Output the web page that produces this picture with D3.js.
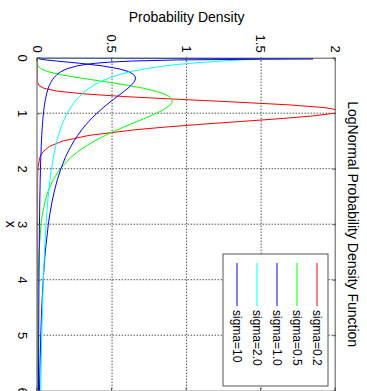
<!DOCTYPE html>
<html>
<head>
<meta charset="utf-8">
<script src="https://cdn.jsdelivr.net/npm/d3@7"></script>
<style>
body { margin: 0; background: #fff; }
svg { display: block; font-family: "Liberation Sans", Arial, sans-serif; }
</style>
</head>
<body>
<svg width="367" height="391"></svg>
<script>
// sample points along x
var xValues = [0, 0.02, 0.04, 0.06, 0.08, 0.1, 0.12, 0.15, 0.2, 0.25, 0.3, 0.35, 0.4, 0.45, 0.5, 0.55,
  0.6, 0.65, 0.7, 0.75, 0.8, 0.85, 0.9, 0.95, 1.0, 1.05, 1.1, 1.15, 1.2, 1.25, 1.3, 1.4, 1.5, 1.6,
  1.7, 1.8, 2.0, 2.2, 2.4, 2.6, 2.8, 3.0, 3.5, 4.0, 4.5, 5.0, 5.5, 6.0];

var sigma02 = [0, 0, 0, 0, 0, 0, 0, 0, 0, 0, 0, 0, 0.0001, 0.0015, 0.0098, 0.0416,
  0.1275, 0.3016, 0.581, 0.9447, 1.338, 1.687, 1.929, 2.032, 1.995, 1.844, 1.619, 1.359, 1.097, 0.856, 0.649, 0.346, 0.170, 0.079,
  0.035, 0.015, 0.0025, 0.0004, 0, 0, 0, 0, 0, 0, 0, 0, 0, 0];
var sigma05 = [0, 0, 0, 0, 0, 0.0002, 0.0008, 0.0040, 0.0225, 0.0683, 0.1463, 0.2517, 0.3720, 0.4945, 0.6104, 0.7098,
  0.7892, 0.8469, 0.8838, 0.9015, 0.9028, 0.8905, 0.8670, 0.8355, 0.7979, 0.7563, 0.7123, 0.6673, 0.6221, 0.5778, 0.5349, 0.4545, 0.3829, 0.3206,
  0.2673, 0.2221, 0.1526, 0.1046, 0.0718, 0.0494, 0.0342, 0.0238, 0.0099, 0.0043, 0.0019, 0.0009, 0.0004, 0.0002];
var sigma10 = [0, 0.0095, 0.0562, 0.1272, 0.2052, 0.2815, 0.3514, 0.4399, 0.5463, 0.6104, 0.6440, 0.6570, 0.6555, 0.6442, 0.6275, 0.6067,
  0.5836, 0.5594, 0.5348, 0.5103, 0.4864, 0.4632, 0.4408, 0.4194, 0.3989, 0.3795, 0.3610, 0.3435, 0.3270, 0.3113, 0.2965, 0.2693, 0.2450, 0.2232,
  0.2039, 0.1865, 0.1569, 0.1329, 0.1133, 0.0972, 0.0839, 0.0727, 0.0520, 0.0381, 0.0286, 0.0219, 0.0170, 0.0134];
var sigma20 = [0, 1.473, 1.366, 1.236, 1.123, 1.028, 0.9477, 0.8480, 0.7215, 0.6275, 0.5547, 0.4966, 0.4490, 0.4093, 0.3757, 0.3468,
  0.3218, 0.2999, 0.2805, 0.2632, 0.2478, 0.2339, 0.2213, 0.2100, 0.1995, 0.1899, 0.1811, 0.1731, 0.1655, 0.1586, 0.1521, 0.1405, 0.1303, 0.1213,
  0.1132, 0.1061, 0.0939, 0.0839, 0.0755, 0.0684, 0.0624, 0.0572, 0.0468, 0.0392, 0.0334, 0.0289, 0.0252, 0.0222];
var sigma100 = [0, 1.848, 0.947, 0.6391, 0.4830, 0.3885, 0.3251, 0.2612, 0.1969, 0.1580, 0.1320, 0.1134, 0.0993, 0.0884, 0.0796, 0.0724,
  0.0664, 0.0613, 0.0570, 0.0532, 0.0499, 0.0469, 0.0443, 0.0420, 0.0399, 0.0380, 0.0363, 0.0347, 0.0332, 0.0319, 0.0307, 0.0285, 0.0266, 0.0249,
  0.0235, 0.0221, 0.0199, 0.0181, 0.0166, 0.0153, 0.0142, 0.0132, 0.0113, 0.0099, 0.0088, 0.0079, 0.0071, 0.0065];

var seriesNames = ["sigma=0.2", "sigma=0.5", "sigma=1.0", "sigma=2.0", "sigma=10"];
var seriesColors = ["#ff0000", "#00ff00", "#0000ff", "#00ffff", "#0000ff"];
var xTicks = [0, 1, 2, 3, 4, 5, 6];
var yTicks = [0, 0.5, 1, 1.5, 2];

var allSeries = [sigma02, sigma05, sigma10, sigma20, sigma100];

// the whole figure is drawn upright (391 wide, 367 tall) and then turned a quarter clockwise
var svg = d3.select("svg");
var fig = svg.append("g").attr("transform", "translate(367,0) rotate(90)");

var plotLeft = 57.7, plotRight = 390.7, plotTop = 31.3, plotBottom = 329.5;
var w = plotRight - plotLeft, h = plotBottom - plotTop;

var x = d3.scaleLinear().domain([0, 6]).range([0, w]);
var y = d3.scaleLinear().domain([0, 2]).range([h, 0]);

var g = fig.append("g").attr("transform", "translate(" + plotLeft + "," + plotTop + ")");

// dotted grid
g.append("g").selectAll("line").data(xTicks.slice(1, -1)).enter().append("line")
  .attr("x1", function (d) { return x(d); }).attr("x2", function (d) { return x(d); })
  .attr("y1", 0).attr("y2", h)
  .attr("stroke", "#000").attr("stroke-dasharray", "1,2");
g.append("g").selectAll("line").data(yTicks.slice(1, -1)).enter().append("line")
  .attr("y1", function (d) { return y(d); }).attr("y2", function (d) { return y(d); })
  .attr("x1", 0).attr("x2", w)
  .attr("stroke", "#000").attr("stroke-dasharray", "1,2");

g.append("clipPath").attr("id", "clip")
  .append("rect").attr("width", w).attr("height", h);

var line = d3.line()
  .x(function (d, i) { return x(xValues[i]); })
  .y(function (d) { return y(d); });

g.append("g").attr("clip-path", "url(#clip)")
  .selectAll("path").data(allSeries).enter().append("path")
  .attr("d", line)
  .attr("fill", "none")
  .attr("stroke", function (d, i) { return seriesColors[i]; })
  .attr("stroke-width", 1);

// axes, ticks pointing inward like matlab
var axisColor = "#555";
var xb = g.append("g").attr("transform", "translate(0," + h + ")")
  .call(d3.axisBottom(x).tickValues(xTicks).tickSize(-3).tickPadding(10).tickFormat(d3.format("d")));
var xt = g.append("g")
  .call(d3.axisTop(x).tickValues(xTicks).tickSize(-3).tickFormat(""));
var yl = g.append("g")
  .call(d3.axisLeft(y).tickValues(yTicks).tickSize(-3).tickPadding(5).tickFormat(function (d) { return d; }));
var yr = g.append("g").attr("transform", "translate(" + w + ",0)")
  .call(d3.axisRight(y).tickValues(yTicks).tickSize(-3).tickFormat(""));

[xb, xt, yl, yr].forEach(function (a) {
  a.select(".domain").attr("stroke", axisColor);
  a.selectAll(".tick line").attr("stroke", axisColor);
  a.selectAll("text").attr("fill", "#000").style("font-size", "13px").style("font-family", "Liberation Sans, Arial, sans-serif");
});

// labels
fig.append("text")
  .attr("x", plotLeft + w / 2).attr("y", 19)
  .attr("text-anchor", "middle")
  .style("font-size", "14px")
  .text("LogNormal Probability Density Function");

fig.append("text")
  .attr("transform", "translate(22," + (plotTop + h / 2) + ") rotate(-90)")
  .attr("text-anchor", "middle")
  .style("font-size", "14px")
  .text("Probability Density");

fig.append("text")
  .attr("x", plotLeft + w / 2).attr("y", 361)
  .attr("text-anchor", "middle")
  .style("font-size", "14px")
  .text("x");

// legend
var legend = fig.append("g").attr("transform", "translate(254,39)");
legend.append("rect")
  .attr("width", 132).attr("height", 105)
  .attr("fill", "#fff").attr("stroke", axisColor);

var item = legend.selectAll(".item").data(seriesNames).enter().append("g")
  .attr("transform", function (d, i) { return "translate(0," + (11 + i * 20) + ")"; });
item.append("line")
  .attr("x1", 9).attr("x2", 52)
  .attr("stroke", function (d, i) { return seriesColors[i]; });
item.append("text")
  .attr("x", 56).attr("dy", "0.35em")
  .style("font-size", "12px")
  .text(function (d) { return d; });
</script>
</body>
</html>
